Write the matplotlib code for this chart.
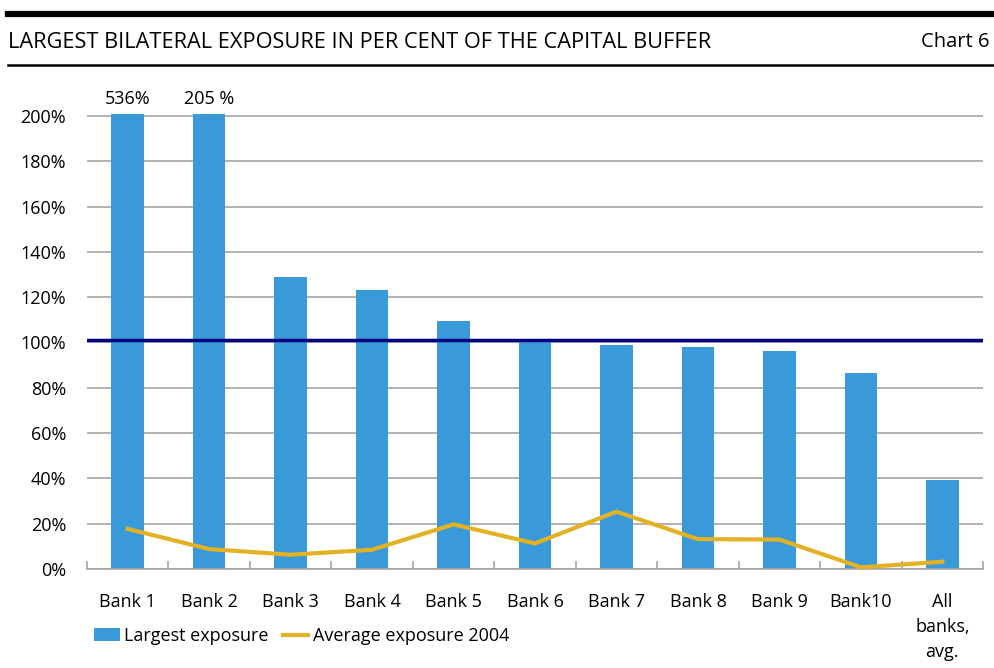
import matplotlib
matplotlib.use("Agg")
import matplotlib.pyplot as plt
import numpy as np

categories = ["Bank 1", "Bank 2", "Bank 3", "Bank 4", "Bank 5", "Bank 6",
              "Bank 7", "Bank 8", "Bank 9", "Bank10", "All\nbanks,\navg."]
largest_exposure = [536, 205, 128.9, 123.2, 109.5, 101.1, 98.9, 98.0, 96.2, 86.5, 39.3]
average_exposure_2004 = [17.7, 8.8, 6.3, 8.5, 19.7, 11.3, 25.3, 13.2, 13.0, 0.75, 3.2]
reference_level = 101.0
bar_labels = {0: "536%", 1: "205 %"}
yticks = [0, 20, 40, 60, 80, 100, 120, 140, 160, 180, 200]

plt.rcParams['font.family'] = ['Open Sans', 'DejaVu Sans']

fig = plt.figure(figsize=(9.95, 6.68), dpi=100)
ax = fig.add_axes([87/995, 1-569/668, (983-87)/995, (569-113.7)/668])

x = np.arange(len(categories))
bars = ax.bar(x, largest_exposure, width=0.4, color="#3A9AD9", zorder=2, label="Largest exposure")
line, = ax.plot(x, average_exposure_2004, color="#E3B224", lw=3, zorder=3, label="Average exposure 2004")
ax.axhline(reference_level, color="#000080", lw=2.5, zorder=4)

ax.set_xlim(-0.5, len(categories)-0.5)
ax.set_ylim(0, 201)
ax.set_yticks(yticks)
ax.set_yticklabels([f"{v}%" for v in yticks], fontsize=13)
ax.yaxis.grid(True, color="#A6A6A6", lw=1.2, zorder=0)
ax.set_axisbelow(True)
ax.tick_params(axis='y', length=0, pad=15)

ax.set_xticks(x)
ax.set_xticklabels(categories, fontsize=13, linespacing=1.5, va='top')
ax.tick_params(axis='x', length=0, pad=17)
ax.set_xticks(np.arange(len(categories)+1) - 0.5, minor=True)
ax.tick_params(axis='x', which='minor', direction='in', length=6, color="#A6A6A6", width=1.2)

for s in ['top', 'right', 'left']:
    ax.spines[s].set_visible(False)
ax.spines['bottom'].set_color("#A6A6A6")
ax.spines['bottom'].set_linewidth(1.2)

for i, lab in bar_labels.items():
    ax.text(i, 203.5, lab, ha='center', va='bottom', fontsize=13, clip_on=False)

# header
fig.add_artist(plt.Line2D([8/995, 1], [1-14/668]*2, color='black', lw=4.5))
fig.add_artist(plt.Line2D([8/995, 1], [1-65/668]*2, color='black', lw=1.8))
title = fig.text(8/995, 1-42/668, "LARGEST BILATERAL EXPOSURE IN PER CENT OF THE CAPITAL BUFFER",
                 fontsize=13, va='center', ha='left')
fig.text(990/995, 1-42/668, "Chart 6", fontsize=14.5, va='center', ha='right')

# fit title width to reference (~698 px)
fig.canvas.draw()
w = title.get_window_extent().width
title.set_fontsize(13 * 698 / w)

fig.legend([bars, line], ["Largest exposure", "Average exposure 2004"],
           loc='center left', bbox_to_anchor=(78/995, 1-636/668), ncol=2, frameon=False,
           fontsize=13, handlelength=1.4, handletextpad=0.25, columnspacing=0.8)

fig.savefig("out.png", dpi=100)
